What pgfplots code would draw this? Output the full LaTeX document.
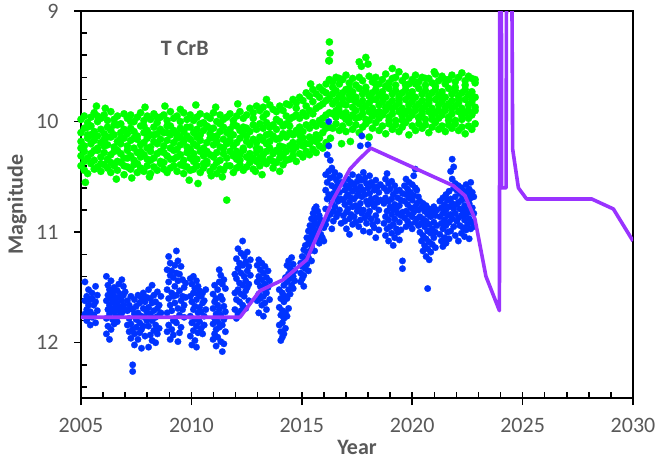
\documentclass[border=0pt]{standalone}
\usepackage{fontspec}
\setmainfont{Carlito}
\usepackage{pgfplots}
\usepackage{pgfplotstable}
\pgfplotsset{compat=1.18}
\definecolor{gr}{RGB}{0,255,0}
\definecolor{bl}{RGB}{0,51,255}
\definecolor{pu}{RGB}{153,51,255}
\definecolor{tg}{RGB}{89,89,89}

\pgfplotstableread{
x y1 y2 y3 y4 y5 y6
2005.00 9.98 10.10 10.18 10.31 10.40 10.24
2005.15 9.95 10.06 10.22 10.27 10.44 10.36
2005.30 10.01 10.12 10.15 10.33 10.47 10.05
2005.45 9.96 10.04 10.20 10.29 10.38 10.12
2005.60 9.92 10.09 10.17 10.35 10.43 10.26
2005.75 10.00 10.13 10.24 10.26 10.41 9.95
2005.90 9.97 10.07 10.19 10.32 10.45 10.38
2006.05 9.94 10.11 10.16 10.28 10.39 10.22
2006.20 9.99 10.05 10.21 10.34 10.42 10.14
2006.35 9.91 10.08 10.14 10.30 10.46 10.37
2006.50 9.98 10.12 10.23 10.27 10.40 10.03
2006.65 9.95 10.03 10.18 10.36 10.44 10.26
2006.80 10.02 10.10 10.20 10.29 10.37 10.15
2006.95 9.93 10.07 10.15 10.33 10.48 10.40
2007.10 9.97 10.11 10.22 10.26 10.41 10.33
2007.25 9.94 10.06 10.17 10.31 10.43 10.00
2007.40 10.00 10.09 10.24 10.35 10.39 10.15
2007.55 9.96 10.13 10.16 10.28 10.46 10.38
2007.70 9.92 10.04 10.21 10.32 10.42 10.27
2007.85 9.99 10.10 10.19 10.30 10.45 10.04
2008.00 9.95 10.08 10.15 10.34 10.40 10.24
2008.15 9.98 10.12 10.23 10.27 10.47 10.35
2008.30 9.93 10.05 10.18 10.33 10.41 10.12
2008.45 10.01 10.11 10.20 10.29 10.44 9.96
2008.60 9.96 10.07 10.16 10.36 10.38 10.27
2008.75 9.94 10.10 10.22 10.28 10.43 10.37
2008.90 9.99 10.04 10.17 10.31 10.46 10.10
2009.05 9.91 10.12 10.24 10.34 10.42 10.04
2009.20 9.97 10.08 10.19 10.26 10.40 10.34
2009.35 9.95 10.11 10.15 10.32 10.45 10.25
2009.50 10.00 10.06 10.21 10.30 10.39 10.14
2009.65 9.92 10.09 10.18 10.35 10.47 10.40
2009.80 9.98 10.13 10.23 10.28 10.41 10.05
2009.95 9.94 10.05 10.16 10.33 10.44 10.25
2010.10 9.99 10.10 10.20 10.29 10.43 10.36
2010.25 9.96 10.07 10.22 10.34 10.40 10.14
2010.40 9.93 10.12 10.17 10.27 10.46 10.02
2010.55 10.01 10.08 10.24 10.31 10.42 10.38
2010.70 9.95 10.04 10.19 10.36 10.38 10.27
2010.85 9.97 10.11 10.15 10.30 10.45 10.06
2011.00 9.92 10.06 10.21 10.32 10.41 10.14
2011.15 10.00 10.13 10.18 10.28 10.47 10.37
2011.30 9.94 10.09 10.23 10.35 10.43 10.02
2011.45 9.98 10.05 10.16 10.29 10.44 10.24
2011.60 9.96 10.10 10.20 10.33 10.71 10.40
2011.75 9.93 10.07 10.17 10.27 10.40 10.12
2011.90 9.99 10.12 10.22 10.31 10.46 10.03
2012.05 9.95 10.04 10.19 10.34 10.42 10.27
2012.20 9.91 10.08 10.15 10.30 10.39 10.35
2012.35 9.97 10.11 10.24 10.26 10.44 10.05
2012.50 9.94 10.06 10.18 10.32 10.41 10.13
2012.65 9.88 10.09 10.21 10.29 10.37 10.34
2012.80 9.92 10.03 10.16 10.33 10.43 9.97
2012.95 9.86 10.07 10.19 10.28 10.36 10.24
2013.10 9.90 10.02 10.14 10.25 10.40 10.33
2013.25 9.87 10.06 10.17 10.30 10.35 9.96
2013.40 9.93 10.01 10.12 10.27 10.38 10.20
2013.55 9.85 10.05 10.18 10.24 10.34 10.11
2013.70 9.89 10.03 10.13 10.29 10.42 10.36
2013.85 9.91 10.07 10.16 10.26 10.37 9.98
2014.00 9.86 10.00 10.15 10.28 10.33 10.22
2014.15 9.90 10.04 10.11 10.23 10.39 10.31
2014.30 9.84 10.02 10.14 10.27 10.35 9.95
2014.45 9.85 9.98 10.10 10.22 10.34 10.04
2014.60 9.80 9.96 10.12 10.19 10.31 10.26
2014.75 9.83 9.94 10.08 10.23 10.36 9.88
2014.90 9.78 9.97 10.05 10.18 10.29 10.12
2015.05 9.81 9.92 10.09 10.15 10.32 10.22
2015.20 9.74 9.95 10.03 10.20 10.27 9.86
2015.35 9.77 9.90 10.06 10.14 10.30 10.20
2015.50 9.71 9.93 10.01 10.17 10.25 9.82
2015.65 9.75 9.88 10.04 10.12 10.28 10.18
2015.80 9.69 9.86 9.99 10.15 10.22 9.78
2015.95 9.72 9.84 9.97 10.10 10.24 10.03
2016.10 9.66 9.81 9.94 10.06 10.19 9.74
2016.25 9.28 9.62 9.79 9.92 10.05 9.45
2016.40 9.64 9.75 9.84 9.93 10.06 9.69
2016.55 9.60 9.72 9.81 9.96 10.02 9.90
2016.70 9.66 9.77 9.86 9.91 10.08 9.61
2016.85 9.62 9.74 9.83 9.95 10.04 9.79
2017.00 9.58 9.71 9.85 9.92 10.09 9.98
2017.15 9.65 9.76 9.80 9.97 10.01 9.70
2017.30 9.61 9.73 9.87 9.94 10.07 9.80
2017.45 9.67 9.78 9.82 9.90 10.03 9.97
2017.60 9.46 9.70 9.84 9.96 10.10 9.60
2017.75 9.63 9.75 9.81 9.93 10.05 9.88
2017.90 9.42 9.72 9.86 9.98 10.02 9.69
2018.05 9.59 9.77 9.83 9.91 10.14 9.99
2018.20 9.64 9.74 9.88 9.95 10.06 9.80
2018.35 9.60 9.71 9.80 9.92 10.01 9.66
2018.50 9.66 9.76 9.85 9.97 10.08 9.91
2018.65 9.62 9.73 9.82 9.94 10.04 9.78
2018.80 9.57 9.78 9.87 9.90 10.11 9.68
2018.95 9.65 9.70 9.84 9.96 10.02 9.99
2019.10 9.61 9.75 9.81 9.93 10.07 9.88
2019.25 9.67 9.72 9.86 9.99 10.03 9.60
2019.40 9.55 9.77 9.83 9.91 10.09 9.79
2019.55 9.63 9.74 9.88 9.95 10.05 9.99
2019.70 9.59 9.71 9.80 9.92 10.01 9.67
2019.85 9.66 9.76 9.85 9.97 10.12 9.90
2020.00 9.62 9.73 9.82 9.94 10.04 9.78
2020.15 9.58 9.78 9.87 9.90 10.08 9.66
2020.30 9.64 9.70 9.84 9.96 10.02 9.97
2020.45 9.60 9.75 9.81 9.93 10.06 9.89
2020.60 9.67 9.72 9.86 9.98 10.03 9.61
2020.75 9.61 9.77 9.83 9.91 10.10 9.80
2020.90 9.65 9.74 9.88 9.95 10.05 9.98
2021.05 9.57 9.71 9.80 9.92 10.01 9.68
2021.20 9.63 9.76 9.85 9.97 10.07 9.90
2021.35 9.59 9.73 9.82 9.94 10.04 9.79
2021.50 9.66 9.78 9.87 9.90 10.09 9.62
2021.65 9.62 9.70 9.84 9.96 10.03 9.99
2021.80 9.58 9.75 9.81 9.93 10.06 9.88
2021.95 9.64 9.72 9.86 9.99 10.02 9.69
2022.10 9.60 9.77 9.83 9.91 10.08 9.80
2022.25 9.56 9.74 9.88 9.95 10.05 9.98
2022.40 9.63 9.71 9.80 9.92 10.11 9.67
2022.55 9.59 9.76 9.85 9.97 10.04 9.90
2022.70 9.61 9.73 9.82 9.94 10.07 9.78
2022.85 9.65 9.78 9.87 9.90 10.02 9.62
}\greentab

\pgfplotstableread{
x y1 y2 y3 y4
2005.18 11.45 11.62 11.74 nan
2005.26 11.58 11.70 11.80 nan
2005.34 11.52 11.66 11.77 nan
2005.42 11.61 11.72 11.84 nan
2005.50 11.55 11.60 11.77 nan
2005.58 11.66 11.75 nan nan
2005.66 11.49 11.63 11.82 nan
2005.74 11.57 11.71 nan nan
2006.15 11.40 11.62 11.78 11.92
2006.22 11.48 11.57 11.70 11.85
2006.29 11.52 11.66 11.74 11.97
2006.36 11.44 11.60 11.69 11.88
2006.43 11.55 11.63 11.79 nan
2006.50 11.50 11.58 11.72 11.83
2006.57 11.61 11.67 11.76 nan
2006.64 11.53 11.64 11.81 nan
2006.71 11.47 11.59 11.71 nan
2006.78 11.56 11.68 11.75 nan
2006.85 11.43 11.62 11.73 nan
2006.92 11.49 11.57 11.66 nan
2007.00 11.54 11.70 nan nan
2007.10 11.62 11.71 11.84 nan
2007.18 11.66 11.78 11.90 nan
2007.26 11.58 11.69 11.83 11.96
2007.34 11.70 11.88 12.20 12.26
2007.42 11.61 11.74 11.92 12.02
2007.50 11.67 11.79 11.86 nan
2007.58 11.57 11.73 11.97 nan
2007.66 11.64 11.82 11.91 nan
2007.74 11.60 11.76 11.88 12.05
2007.82 11.55 11.69 11.85 nan
2007.90 11.63 11.77 11.94 nan
2007.98 11.59 11.72 11.80 nan
2008.06 11.52 11.68 11.85 12.04
2008.14 11.60 11.74 11.93 nan
2008.22 11.48 11.64 11.80 11.98
2008.30 11.57 11.71 11.89 nan
2008.38 11.63 11.77 11.84 12.00
2008.46 11.54 11.69 11.92 nan
2008.54 11.66 11.75 11.87 nan
2008.62 11.58 11.73 nan nan
2008.90 11.34 11.52 11.73 11.90
2008.97 11.22 11.45 11.60 11.84
2009.04 11.28 11.39 11.66 11.97
2009.11 11.35 11.55 11.71 11.88
2009.18 11.41 11.58 11.80 11.93
2009.25 11.30 11.49 11.64 11.78
2009.32 11.17 11.37 11.57 11.82
2009.39 11.26 11.44 11.69 11.99
2009.46 11.38 11.53 11.75 11.91
2009.53 11.31 11.62 11.86 nan
2009.60 11.43 11.58 11.70 nan
2009.67 11.50 11.66 11.77 nan
2009.74 11.46 11.59 nan nan
2009.95 11.42 11.58 11.76 11.94
2010.02 11.47 11.63 11.82 12.02
2010.09 11.40 11.55 11.70 11.89
2010.16 11.51 11.67 11.79 11.98
2010.23 11.44 11.61 11.85 12.04
2010.30 11.49 11.56 11.73 11.91
2010.37 11.53 11.68 11.81 nan
2010.44 11.58 11.72 11.87 nan
2010.51 11.55 11.64 11.92 nan
2010.58 11.62 11.76 11.84 nan
2010.65 11.52 11.70 nan nan
2010.98 11.56 11.69 11.83 11.97
2011.05 11.48 11.63 11.78 11.92
2011.12 11.60 11.74 11.88 12.03
2011.19 11.52 11.66 11.81 11.95
2011.26 11.34 11.45 11.70 11.86
2011.33 11.39 11.58 11.75 11.99
2011.40 11.47 11.61 11.84 12.08
2011.47 11.43 11.67 11.79 12.01
2011.54 11.51 11.72 11.90 nan
2011.97 11.38 11.55 11.70 nan
2012.04 11.24 11.42 11.61 11.78
2012.11 11.15 11.33 11.52 11.74
2012.18 11.28 11.46 11.63 nan
2012.25 11.19 11.37 11.56 11.71
2012.32 11.08 11.30 11.48 11.66
2012.39 11.22 11.40 11.58 nan
2012.46 11.27 11.44 11.53 11.69
2012.53 11.18 11.35 11.50 nan
2012.60 11.31 11.47 11.62 nan
2012.67 11.25 11.39 nan nan
2012.98 11.30 11.45 11.62 nan
2013.05 11.25 11.40 11.56 11.73
2013.12 11.34 11.49 11.60 nan
2013.19 11.28 11.43 11.66 nan
2013.26 11.37 11.52 11.58 11.76
2013.33 11.31 11.47 11.64 nan
2013.40 11.41 11.55 11.70 nan
2013.47 11.35 11.50 nan nan
2013.54 11.44 11.61 nan nan
2013.98 11.52 11.68 11.84 nan
2014.05 11.60 11.75 11.90 11.98
2014.12 11.55 11.71 11.82 11.95
2014.19 11.48 11.63 11.78 11.92
2014.26 11.41 11.58 11.73 11.87
2014.33 11.30 11.45 11.60 11.76
2014.40 11.26 11.38 11.52 11.69
2014.47 11.33 11.42 11.56 nan
2014.54 11.23 11.36 11.48 nan
2014.61 11.29 11.40 11.51 nan
2014.68 11.35 11.44 nan nan
2014.95 11.28 11.37 11.45 nan
2015.02 11.22 11.31 11.42 nan
2015.09 11.16 11.27 11.39 11.49
2015.16 11.12 11.24 11.33 nan
2015.23 11.05 11.18 11.29 nan
2015.30 10.99 11.10 11.23 11.35
2015.37 10.94 11.06 11.17 nan
2015.44 10.88 11.01 11.13 11.26
2015.51 10.83 10.96 11.08 nan
2015.58 10.79 10.91 11.04 11.17
2015.65 10.77 10.87 10.99 nan
2015.72 10.81 10.93 11.06 nan
2015.79 10.85 10.97 11.10 nan
2015.86 10.89 11.02 nan nan
2015.93 10.92 11.05 nan nan
2016.00 10.96 11.08 nan nan
2016.08 10.48 10.62 10.79 10.93
2016.15 10.30 10.55 10.70 10.88
2016.22 10.00 10.22 10.45 10.66
2016.29 10.35 10.51 10.68 10.84
2016.36 10.42 10.58 10.74 10.97
2016.43 10.50 10.65 10.81 10.90
2016.50 10.46 10.60 10.77 nan
2016.57 10.53 10.69 10.86 nan
2016.64 10.57 10.72 10.83 nan
2016.71 10.49 10.64 10.80 nan
2016.78 10.55 10.70 10.92 nan
2016.88 10.56 10.71 10.85 nan
2016.95 10.62 10.75 10.90 nan
2017.02 10.58 10.68 10.82 10.97
2017.09 10.52 10.66 10.79 nan
2017.16 10.60 10.73 10.88 11.02
2017.23 10.55 10.69 10.84 nan
2017.30 10.48 10.63 10.77 10.93
2017.37 10.57 10.70 10.86 nan
2017.44 10.61 10.76 10.91 nan
2017.51 10.54 10.67 10.81 nan
2017.58 10.50 10.64 10.78 10.95
2017.65 10.22 10.59 10.74 10.89
2017.72 10.13 10.53 10.68 10.83
2017.79 10.46 10.62 10.80 10.99
2017.86 10.51 10.66 10.87 nan
2017.93 10.56 10.72 10.92 nan
2018.00 10.21 10.60 10.75 10.84
2018.07 10.49 10.65 10.81 11.00
2018.14 10.55 10.70 10.88 nan
2018.21 10.58 10.74 10.93 nan
2018.28 10.62 10.77 10.96 nan
2018.35 10.53 10.69 10.85 11.05
2018.42 10.59 10.73 10.90 nan
2018.49 10.64 10.80 10.98 nan
2018.56 10.57 10.71 nan nan
2018.72 10.60 10.74 10.92 nan
2018.79 10.52 10.69 10.86 11.03
2018.86 10.47 10.63 10.81 10.97
2018.93 10.56 10.72 10.89 11.08
2019.00 10.61 10.77 10.95 nan
2019.07 10.54 10.70 10.84 11.01
2019.14 10.66 10.80 10.93 11.12
2019.21 10.58 10.75 10.88 11.05
2019.28 10.63 10.79 10.97 nan
2019.35 10.69 10.83 11.00 nan
2019.42 10.62 10.76 10.91 11.07
2019.49 10.71 10.85 10.98 nan
2019.56 10.65 10.82 11.26 11.33
2019.65 10.58 10.72 10.87 nan
2019.72 10.52 10.66 10.81 10.95
2019.79 10.61 10.75 10.90 nan
2019.86 10.55 10.69 10.84 nan
2019.93 10.64 10.78 10.93 nan
2020.00 10.57 10.71 10.86 10.97
2020.07 10.49 10.67 10.82 nan
2020.14 10.43 10.60 10.77 10.91
2020.21 10.62 10.74 10.88 nan
2020.28 10.68 10.80 10.94 nan
2020.35 10.72 10.86 11.00 nan
2020.42 10.78 10.92 11.08 nan
2020.49 10.74 10.88 11.03 11.17
2020.56 10.81 10.95 11.12 nan
2020.63 10.76 10.90 11.06 11.22
2020.70 10.84 10.99 11.15 11.51
2020.77 10.79 10.93 11.09 11.25
2020.84 10.86 11.01 11.18 nan
2020.91 10.82 10.97 11.11 nan
2020.98 10.77 10.91 11.05 nan
2021.05 10.85 11.00 11.14 nan
2021.12 10.80 10.94 nan nan
2021.25 10.72 10.86 11.02 nan
2021.32 10.78 10.92 11.08 nan
2021.39 10.69 10.83 10.97 11.13
2021.46 10.75 10.89 11.05 nan
2021.53 10.66 10.80 10.94 11.10
2021.60 10.71 10.85 11.00 nan
2021.67 10.63 10.77 10.91 11.06
2021.74 10.45 10.70 10.84 10.99
2021.81 10.34 10.52 10.74 10.88
2021.88 10.41 10.60 10.79 10.95
2021.95 10.56 10.68 10.83 11.03
2022.02 10.62 10.75 10.90 nan
2022.09 10.58 10.73 10.87 11.08
2022.16 10.65 10.79 10.94 nan
2022.23 10.60 10.71 10.85 11.01
2022.30 10.67 10.81 10.96 nan
2022.37 10.63 10.76 10.89 11.04
2022.44 10.57 10.70 10.84 10.98
2022.51 10.66 10.80 10.93 nan
2022.58 10.61 10.74 10.88 11.06
2022.65 10.55 10.69 10.82 10.97
2022.72 10.64 10.78 10.91 nan
2022.79 10.68 10.83 10.95 nan
}\bluetab

\begin{document}
\begin{tikzpicture}
\begin{axis}[
  at={(0,0)}, anchor=south west,
  scale only axis, width=552pt, height=387pt,
  xmin=2005, xmax=2030, ymin=9, ymax=12.5, y dir=reverse,
  clip mode=individual,
  tick pos=left,
  xtick={2005,2010,...,2030},
  ytick={9,10,11,12},
  tick align=outside,
  major tick length=7pt,
  every tick/.style={black, line width=1.5pt},
  extra x ticks={2005,2006,...,2030},
  extra x tick labels={},
  extra x tick style={tick align=inside, major tick length=6pt},
  extra y ticks={9.2,9.4,9.6,9.8,10.2,10.4,10.6,10.8,11.2,11.4,11.6,11.8,12.2,12.4},
  extra y tick labels={},
  extra y tick style={tick align=inside, major tick length=6pt},
  axis line style={line width=1.8pt},
  /pgf/number format/1000 sep={},
  /pgf/number format/assume math mode=true,
  tick label style={font=\fontsize{22}{26}\selectfont, text=tg},
  xticklabel style={anchor=center, yshift=-20pt},
  yticklabel style={anchor=east, xshift=-12pt},
  xlabel={Year}, ylabel={Magnitude},
  label style={font=\bfseries\fontsize{22}{26}\selectfont, text=tg},
  xlabel style={at={(axis description cs:0.5,-0.129)}, anchor=center},
  ylabel style={at={(axis description cs:-0.116,0.5)}, anchor=center},
  gmark/.style={gr, only marks, mark=*, mark size=3.7pt, mark options={fill=gr, draw=gr, line width=0.2pt}},
  bmark/.style={bl, only marks, mark=*, mark size=3.3pt, mark options={fill=bl, draw=bl, line width=0.2pt}},
]
% green series
\addplot[gmark] table[x=x, y=y1] \greentab;
\addplot[gmark] table[x=x, y=y2] \greentab;
\addplot[gmark] table[x=x, y=y3] \greentab;
\addplot[gmark] table[x=x, y=y4] \greentab;
\addplot[gmark] table[x=x, y=y5] \greentab;
\addplot[gmark] table[x=x, y=y6] \greentab;
\addplot[gmark] coordinates {
(2005.2,10.55) (2006.6,10.52) (2008.1,10.50) (2009.9,10.53) (2010.3,10.56) (2011.4,10.50)
(2012.9,10.45) (2005.7,9.86) (2007.9,9.87) (2010.2,9.85) (2012.1,9.84) (2013.4,9.80)
(2016.28,9.38) (2016.22,9.45) (2017.7,9.50) (2018.0,9.48) (2016.3,10.15) (2017.2,10.18)
(2016.8,10.20) (2014.0,10.45) (2013.2,10.48) (2015.4,9.66) (2019.1,9.52) (2021.0,9.55)
(2006.1,9.88) (2008.8,9.86) (2009.5,9.89) (2011.1,9.87) (2007.3,10.51) (2010.9,10.49)
};
% blue series
\addplot[bmark] table[x=x, y=y1] \bluetab;
\addplot[bmark] table[x=x, y=y2] \bluetab;
\addplot[bmark] table[x=x, y=y3] \bluetab;
\addplot[bmark] table[x=x, y=y4] \bluetab;
% purple model line
\addplot[pu, line width=3.6pt, mark=none, line join=round] coordinates {
(2005,11.77) (2012.2,11.77) (2013.1,11.53) (2014.16,11.43) (2015.22,11.25)
(2016.43,10.70) (2017.18,10.43) (2017.6,10.34) (2018.12,10.24) (2021.86,10.58)
(2022.39,10.67) (2022.84,10.88) (2023.34,11.40) (2023.95,11.71) (2024.0,2.0)
(2024.05,10.6) (2024.25,10.6) (2024.35,2.0) (2024.55,10.25) (2024.81,10.6)
(2025.18,10.70) (2028.13,10.70) (2029.11,10.79) (2030,11.08)
};
\node[font=\bfseries\fontsize{22}{26}\selectfont, text=tg] at (axis cs:2009.7,9.34) {T CrB};
\end{axis}
\pgfresetboundingbox
\path[use as bounding box] (-81pt,-65pt) rectangle (577pt,398pt);
\end{tikzpicture}
\end{document}
